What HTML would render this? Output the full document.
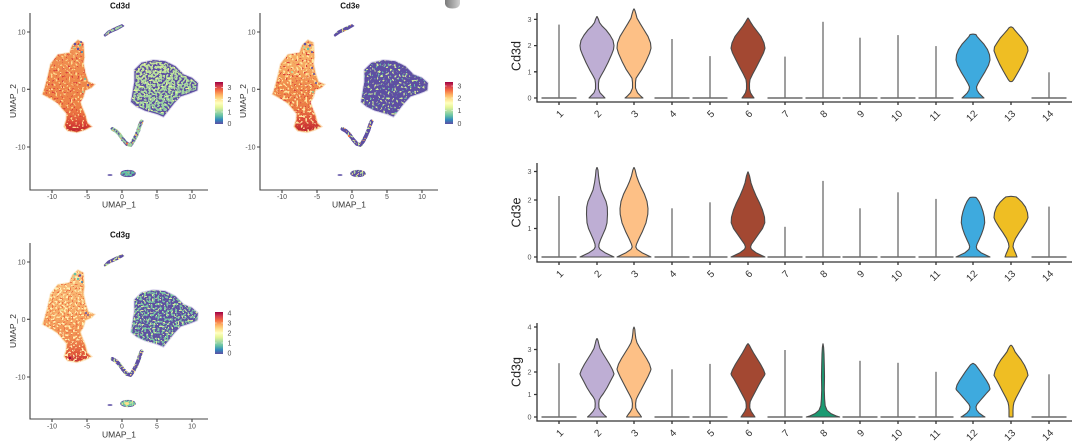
<!DOCTYPE html>
<html><head><meta charset="utf-8"><style>
html,body{margin:0;padding:0;background:#fff;}
svg{display:block;font-family:"Liberation Sans",Arial,sans-serif;}
</style></head><body>
<svg width="1080" height="447" viewBox="0 0 1080 447" xmlns="http://www.w3.org/2000/svg">
<defs>
<linearGradient id="spec" x1="0" y1="1" x2="0" y2="0">
<stop offset="0" stop-color="#5E4FA2"/><stop offset="0.1" stop-color="#3288BD"/><stop offset="0.2" stop-color="#66C2A5"/><stop offset="0.3" stop-color="#ABDDA4"/><stop offset="0.4" stop-color="#E6F598"/><stop offset="0.5" stop-color="#FFFFBF"/><stop offset="0.6" stop-color="#FEE08B"/><stop offset="0.7" stop-color="#FDAE61"/><stop offset="0.8" stop-color="#F46D43"/><stop offset="0.9" stop-color="#D53E4F"/><stop offset="1" stop-color="#9E0142"/>
</linearGradient>
<linearGradient id="gdL" gradientUnits="userSpaceOnUse" x1="0" y1="40" x2="0" y2="132">
<stop offset="0" stop-color="#F39A5C"/><stop offset="0.2" stop-color="#F08E50"/><stop offset="0.55" stop-color="#EE8548"/><stop offset="0.72" stop-color="#EE8246"/><stop offset="0.82" stop-color="#E86A3E"/><stop offset="0.91" stop-color="#D94434"/><stop offset="1" stop-color="#B8222E"/>
</linearGradient>
<linearGradient id="geL" gradientUnits="userSpaceOnUse" x1="0" y1="40" x2="0" y2="132">
<stop offset="0" stop-color="#F7B56A"/><stop offset="0.3" stop-color="#F6A861"/><stop offset="0.5" stop-color="#EF8A4A"/><stop offset="0.75" stop-color="#EA7A44"/><stop offset="0.88" stop-color="#DA4A37"/><stop offset="1" stop-color="#B8222E"/>
</linearGradient>
<linearGradient id="ggL" gradientUnits="userSpaceOnUse" x1="0" y1="40" x2="0" y2="132">
<stop offset="0" stop-color="#F9C27E"/><stop offset="0.5" stop-color="#F6A763"/><stop offset="0.75" stop-color="#F08C50"/><stop offset="0.9" stop-color="#E0573A"/><stop offset="1" stop-color="#C2303A"/>
</linearGradient>
<linearGradient id="gdR" x1="0" y1="0" x2="0.3" y2="1">
<stop offset="0" stop-color="#C9E59B"/><stop offset="1" stop-color="#93D0A2"/>
</linearGradient>
<linearGradient id="gblob" x1="0" y1="0" x2="1" y2="0">
<stop offset="0" stop-color="#7a7a7a"/><stop offset="1" stop-color="#d0d0d0"/>
</linearGradient>

<filter id="fdL" x="-0.1" y="-0.1" width="1.2" height="1.2" color-interpolation-filters="sRGB">
<feTurbulence type="fractalNoise" baseFrequency="0.45" numOctaves="1" seed="3" result="n1"/>
<feColorMatrix in="n1" type="matrix" values="0 0 0 0 0.99 0 0 0 0 0.85 0 0 0 0 0.56 20 0 0 0 -12" result="c1"/>
<feTurbulence type="fractalNoise" baseFrequency="0.5" numOctaves="1" seed="7" result="n2"/>
<feColorMatrix in="n2" type="matrix" values="0 0 0 0 0.85 0 0 0 0 0.25 0 0 0 0 0.23 20 0 0 0 -12.6" result="c2"/>
<feMerge result="m"><feMergeNode in="SourceGraphic"/><feMergeNode in="c1"/><feMergeNode in="c2"/></feMerge>
<feComposite in="m" in2="SourceAlpha" operator="in"/>
</filter>
<filter id="fdR" x="-0.1" y="-0.1" width="1.2" height="1.2" color-interpolation-filters="sRGB">
<feTurbulence type="fractalNoise" baseFrequency="0.45" numOctaves="1" seed="5" result="n1"/>
<feColorMatrix in="n1" type="matrix" values="0 0 0 0 0.37 0 0 0 0 0.31 0 0 0 0 0.635 20 0 0 0 -10" result="c1"/>
<feTurbulence type="fractalNoise" baseFrequency="0.5" numOctaves="1" seed="11" result="n2"/>
<feColorMatrix in="n2" type="matrix" values="0 0 0 0 0.9 0 0 0 0 0.96 0 0 0 0 0.6 20 0 0 0 -12.8" result="c2"/>
<feMerge result="m"><feMergeNode in="SourceGraphic"/><feMergeNode in="c1"/><feMergeNode in="c2"/></feMerge>
<feComposite in="m" in2="SourceAlpha" operator="in"/>
</filter>
<filter id="fdS" x="-0.2" y="-0.2" width="1.4" height="1.4" color-interpolation-filters="sRGB">
<feTurbulence type="fractalNoise" baseFrequency="0.5" numOctaves="1" seed="2" result="n1"/>
<feColorMatrix in="n1" type="matrix" values="0 0 0 0 0.37 0 0 0 0 0.31 0 0 0 0 0.635 20 0 0 0 -10.4" result="c1"/>
<feTurbulence type="fractalNoise" baseFrequency="0.5" numOctaves="1" seed="9" result="n2"/>
<feColorMatrix in="n2" type="matrix" values="0 0 0 0 0.965 0 0 0 0 0.65 0 0 0 0 0.37 20 0 0 0 -13.2" result="c2"/>
<feMerge result="m"><feMergeNode in="SourceGraphic"/><feMergeNode in="c1"/><feMergeNode in="c2"/></feMerge>
<feComposite in="m" in2="SourceAlpha" operator="in"/>
</filter>
<filter id="feL" x="-0.1" y="-0.1" width="1.2" height="1.2" color-interpolation-filters="sRGB">
<feTurbulence type="fractalNoise" baseFrequency="0.45" numOctaves="1" seed="4" result="n1"/>
<feColorMatrix in="n1" type="matrix" values="0 0 0 0 0.996 0 0 0 0 0.906 0 0 0 0 0.627 20 0 0 0 -11.2" result="c1"/>
<feTurbulence type="fractalNoise" baseFrequency="0.5" numOctaves="1" seed="8" result="n2"/>
<feColorMatrix in="n2" type="matrix" values="0 0 0 0 0.85 0 0 0 0 0.25 0 0 0 0 0.23 20 0 0 0 -12.8" result="c2"/>
<feMerge result="m"><feMergeNode in="SourceGraphic"/><feMergeNode in="c1"/><feMergeNode in="c2"/></feMerge>
<feComposite in="m" in2="SourceAlpha" operator="in"/>
</filter>
<filter id="feR" x="-0.1" y="-0.1" width="1.2" height="1.2" color-interpolation-filters="sRGB">
<feTurbulence type="fractalNoise" baseFrequency="0.45" numOctaves="1" seed="6" result="n1"/>
<feColorMatrix in="n1" type="matrix" values="0 0 0 0 0.83 0 0 0 0 0.925 0 0 0 0 0.6 20 0 0 0 -12" result="c1"/>
<feTurbulence type="fractalNoise" baseFrequency="0.5" numOctaves="1" seed="12" result="n2"/>
<feColorMatrix in="n2" type="matrix" values="0 0 0 0 0.4 0 0 0 0 0.76 0 0 0 0 0.65 20 0 0 0 -13.2" result="c2"/>
<feMerge result="m"><feMergeNode in="SourceGraphic"/><feMergeNode in="c1"/><feMergeNode in="c2"/></feMerge>
<feComposite in="m" in2="SourceAlpha" operator="in"/>
</filter>
<filter id="feS" x="-0.2" y="-0.2" width="1.4" height="1.4" color-interpolation-filters="sRGB">
<feTurbulence type="fractalNoise" baseFrequency="0.5" numOctaves="1" seed="13" result="n1"/>
<feColorMatrix in="n1" type="matrix" values="0 0 0 0 0.78 0 0 0 0 0.9 0 0 0 0 0.61 20 0 0 0 -11.6" result="c1"/>
<feTurbulence type="fractalNoise" baseFrequency="0.5" numOctaves="1" seed="14" result="n2"/>
<feColorMatrix in="n2" type="matrix" values="0 0 0 0 0.965 0 0 0 0 0.65 0 0 0 0 0.37 20 0 0 0 -13.2" result="c2"/>
<feMerge result="m"><feMergeNode in="SourceGraphic"/><feMergeNode in="c1"/><feMergeNode in="c2"/></feMerge>
<feComposite in="m" in2="SourceAlpha" operator="in"/>
</filter>
<filter id="fgL" x="-0.1" y="-0.1" width="1.2" height="1.2" color-interpolation-filters="sRGB">
<feTurbulence type="fractalNoise" baseFrequency="0.45" numOctaves="1" seed="15" result="n1"/>
<feColorMatrix in="n1" type="matrix" values="0 0 0 0 1 0 0 0 0 0.94 0 0 0 0 0.7 20 0 0 0 -11.2" result="c1"/>
<feTurbulence type="fractalNoise" baseFrequency="0.5" numOctaves="1" seed="16" result="n2"/>
<feColorMatrix in="n2" type="matrix" values="0 0 0 0 0.925 0 0 0 0 0.455 0 0 0 0 0.275 20 0 0 0 -12" result="c2"/>
<feMerge result="m"><feMergeNode in="SourceGraphic"/><feMergeNode in="c1"/><feMergeNode in="c2"/></feMerge>
<feComposite in="m" in2="SourceAlpha" operator="in"/>
</filter>
<filter id="fgR" x="-0.1" y="-0.1" width="1.2" height="1.2" color-interpolation-filters="sRGB">
<feTurbulence type="fractalNoise" baseFrequency="0.45" numOctaves="1" seed="17" result="n1"/>
<feColorMatrix in="n1" type="matrix" values="0 0 0 0 0.49 0 0 0 0 0.78 0 0 0 0 0.64 20 0 0 0 -10.4" result="c1"/>
<feTurbulence type="fractalNoise" baseFrequency="0.5" numOctaves="1" seed="18" result="n2"/>
<feColorMatrix in="n2" type="matrix" values="0 0 0 0 0.85 0 0 0 0 0.93 0 0 0 0 0.62 20 0 0 0 -12.4" result="c2"/>
<feMerge result="m"><feMergeNode in="SourceGraphic"/><feMergeNode in="c1"/><feMergeNode in="c2"/></feMerge>
<feComposite in="m" in2="SourceAlpha" operator="in"/>
</filter>
<filter id="fgS" x="-0.2" y="-0.2" width="1.4" height="1.4" color-interpolation-filters="sRGB">
<feTurbulence type="fractalNoise" baseFrequency="0.5" numOctaves="1" seed="19" result="n1"/>
<feColorMatrix in="n1" type="matrix" values="0 0 0 0 0.73 0 0 0 0 0.88 0 0 0 0 0.62 20 0 0 0 -11" result="c1"/>
<feTurbulence type="fractalNoise" baseFrequency="0.5" numOctaves="1" seed="20" result="n2"/>
<feColorMatrix in="n2" type="matrix" values="0 0 0 0 0.996 0 0 0 0 0.88 0 0 0 0 0.545 20 0 0 0 -12.4" result="c2"/>
<feMerge result="m"><feMergeNode in="SourceGraphic"/><feMergeNode in="c1"/><feMergeNode in="c2"/></feMerge>
<feComposite in="m" in2="SourceAlpha" operator="in"/>
</filter>

<path id="shL" d="M73,45 L78,40.5 L83,43 L83.5,50 L84,57 L83,63 L85,73 L88,82 L94,84.5 L91,87.5 L85,90 L83,97 L80,102 L82,108 L85,115 L87,123 L91,126.5 L85,129.5 L77,132 L68,130.5 L64.5,126.5 L66.5,120 L67,113.5 L63,109 L58,103 L52,99 L43,94 L45,88 L48,77 L51,64 L58,55 L70,53 L71.5,48 Z"/>
<path id="shR" d="M135,70 L141.7,63.3 L153.3,60.7 L165,61.7 L175,66.7 L183.3,75 L191.7,78.3 L197.3,83.3 L196.7,90 L190,92.7 L180,96 L173.3,103.3 L166.7,111.7 L163.3,116 L156.7,113.3 L145,110 L136.7,106 L131.7,101.7 L133.3,91.7 L135,81.7 Z"/>
<path id="shT" d="M104,35 L108,31 L116,27 L122,24.5 L124,26 L118,29.5 L110,33 L105,36.5 Z"/>
<path id="shV" fill="none" stroke-width="4" stroke-linecap="round" stroke-linejoin="round" d="M112.5,129 L116,131 L119.5,134.5 L123,139.5 L127,144 L130.5,145 L133,141.5 L136,136 L138.5,130 L140,125 L141.5,121.5"/>
<ellipse id="shB" cx="128" cy="173.5" rx="7.5" ry="3.3"/>

<path id="d2" vector-effect="non-scaling-stroke" stroke-linejoin="round" d="M0,0 L8,0 L6,0.08 L3,0.2 L1.5,0.35 L1.5,0.55 L2,0.7 L4,0.85 L7,1.05 L11,1.35 L14.5,1.65 L16.5,1.85 L17,2.0 L16,2.2 L13,2.4 L9,2.6 L5,2.75 L2.5,2.88 L1.5,3.0 L0,3.12"/>
<path id="d3" vector-effect="non-scaling-stroke" stroke-linejoin="round" d="M0,0 L9,0 L6.5,0.08 L3.5,0.2 L1.5,0.38 L1.5,0.6 L2,0.75 L4.5,0.9 L8,1.1 L12,1.4 L15.5,1.7 L17,1.9 L16.5,2.1 L14,2.35 L10,2.6 L6,2.85 L3,3.05 L2,3.2 L1,3.33 L0,3.41"/>
<path id="d6" vector-effect="non-scaling-stroke" stroke-linejoin="round" d="M0,0 L6,0 L4.5,0.08 L2.5,0.2 L1.5,0.35 L1.5,0.55 L2,0.7 L4.5,0.9 L8,1.15 L12,1.45 L15.5,1.72 L17,1.9 L16,2.1 L13,2.35 L9,2.55 L5,2.75 L2.5,2.9 L1,3.0 L0,3.06"/>
<path id="d12" vector-effect="non-scaling-stroke" stroke-linejoin="round" d="M0,0 L11,0 L9,0.07 L6,0.18 L4,0.3 L3.5,0.42 L5,0.55 L8,0.75 L12,1.0 L15.5,1.25 L17,1.45 L16.5,1.65 L14.5,1.85 L11,2.05 L7,2.22 L4,2.35 L3,2.42 L0,2.44"/>
<path id="d13" vector-effect="non-scaling-stroke" stroke-linejoin="round" d="M0,0.62 L1.5,0.64 L3,0.72 L5,0.85 L8,1.05 L11.5,1.3 L14.5,1.55 L17,1.8 L16.5,1.95 L14,2.1 L10.5,2.3 L7,2.45 L4,2.58 L2,2.68 L0,2.72"/>

<path id="e2" vector-effect="non-scaling-stroke" stroke-linejoin="round" d="M0,0 L17,0 L14,0.05 L8,0.15 L3,0.27 L1.8,0.35 L2,0.45 L3.5,0.6 L6,0.8 L8.5,1.0 L10,1.2 L10.5,1.5 L10.3,1.75 L9,1.95 L6.5,2.15 L4,2.35 L2.5,2.6 L1.5,2.85 L1,3.05 L0,3.15"/>
<path id="e3" vector-effect="non-scaling-stroke" stroke-linejoin="round" d="M0,0 L17,0 L14,0.05 L8,0.15 L3,0.27 L1.8,0.35 L2.5,0.45 L5,0.65 L8.5,0.9 L12,1.2 L13.8,1.5 L14,1.7 L13,1.95 L10.5,2.2 L7,2.45 L4.5,2.65 L2.5,2.85 L1.2,3.05 L0,3.15"/>
<path id="e6" vector-effect="non-scaling-stroke" stroke-linejoin="round" d="M0,0 L17,0 L14,0.05 L8,0.15 L3.5,0.27 L2.5,0.35 L3.5,0.45 L6.5,0.6 L10.5,0.8 L14.5,1.0 L16.8,1.2 L16.5,1.4 L14.5,1.65 L11.5,1.9 L8,2.15 L5,2.4 L3,2.6 L1.5,2.85 L0,3.0"/>
<path id="e12" vector-effect="non-scaling-stroke" stroke-linejoin="round" d="M0,0 L17,0 L14,0.05 L8,0.15 L4,0.27 L3.3,0.36 L4,0.45 L6,0.6 L8.5,0.8 L10.5,1.0 L11.7,1.2 L11.3,1.4 L10,1.6 L8,1.8 L6,1.95 L4,2.05 L3,2.09 L0,2.1"/>
<path id="e13" vector-effect="non-scaling-stroke" stroke-linejoin="round" d="M0,0 L6,0 L5,0.1 L3.5,0.22 L2,0.36 L2.5,0.48 L4.5,0.65 L8,0.85 L12,1.05 L15.5,1.25 L17,1.38 L16.5,1.55 L14.5,1.75 L11,1.92 L7.5,2.04 L5,2.11 L0,2.13"/>

<path id="g2" vector-effect="non-scaling-stroke" stroke-linejoin="round" d="M0,0 L9.5,0 L7,0.1 L4,0.25 L2,0.4 L1.8,0.6 L2.2,0.76 L4,0.9 L6.5,1.05 L10,1.3 L13.5,1.6 L16.5,1.85 L17,1.92 L15.5,2.1 L12.5,2.35 L9,2.6 L5.5,2.85 L3,3.05 L1.8,3.25 L1,3.4 L0,3.5"/>
<path id="g3" vector-effect="non-scaling-stroke" stroke-linejoin="round" d="M0,0 L7.5,0 L6,0.1 L3.5,0.25 L1.8,0.4 L1.6,0.6 L2.2,0.78 L4,0.95 L7,1.2 L10.5,1.5 L14,1.8 L16.5,2.05 L17,2.13 L15.5,2.35 L12.5,2.6 L9,2.85 L5.5,3.1 L3,3.3 L1.8,3.5 L1.2,3.7 L0.8,3.9 L0,4.01"/>
<path id="g6" vector-effect="non-scaling-stroke" stroke-linejoin="round" d="M0,0 L7,0 L5.5,0.1 L3.2,0.25 L1.8,0.4 L1.8,0.55 L2.2,0.68 L4,0.85 L7,1.1 L10.5,1.4 L14,1.68 L16.5,1.85 L17,1.92 L15.5,2.1 L12.5,2.35 L9,2.6 L5.5,2.85 L3,3.05 L1.5,3.18 L0,3.27"/>
<path id="g8" vector-effect="non-scaling-stroke" stroke-linejoin="round" d="M0,0 L16.7,0 L13,0.05 L8,0.15 L4,0.3 L2.2,0.5 L1.6,0.8 L1.3,1.2 L1.5,1.8 L1.3,2.3 L1,2.8 L0.6,3.1 L0,3.27"/>
<path id="g12" vector-effect="non-scaling-stroke" stroke-linejoin="round" d="M0,0 L12,0 L10,0.05 L6,0.18 L3.5,0.32 L3,0.45 L4,0.56 L7,0.72 L10.5,0.9 L14,1.08 L16.5,1.2 L17,1.25 L16,1.42 L13.5,1.62 L10.5,1.82 L7.5,2.02 L4.5,2.2 L2.5,2.32 L0,2.39"/>
<path id="g13" vector-effect="non-scaling-stroke" stroke-linejoin="round" d="M0,0 L2,0 L2,0.3 L2.3,0.5 L3,0.65 L5,0.85 L8,1.1 L11.5,1.4 L14.5,1.65 L17,1.85 L16,2.05 L13.5,2.3 L10,2.55 L6.5,2.75 L4,2.9 L2.5,3.05 L1.2,3.15 L0,3.2"/>
</defs>

<rect width="1080" height="447" fill="#fff"/>

<!-- ============ UMAP Cd3d ============ -->
<g>
<use href="#shL" fill="none" stroke="#FBE3C6" stroke-width="2.5"/>
<use href="#shL" fill="url(#gdL)" stroke="#EE8A4C" stroke-width="0.8" filter="url(#fdL)"/>
<g>
<circle cx="75" cy="44" r="1.3" fill="#5E4FA2"/><circle cx="80" cy="45" r="1.2" fill="#66C2A5"/><circle cx="78" cy="49" r="1.2" fill="#5E4FA2"/><circle cx="82" cy="52" r="1" fill="#3288BD"/><circle cx="74" cy="47.5" r="1" fill="#ABDDA4"/><circle cx="81" cy="42" r="1" fill="#5E4FA2"/><circle cx="85" cy="79" r="1" fill="#66C2A5"/><circle cx="88" cy="85" r="1" fill="#5E4FA2"/><circle cx="83" cy="92" r="0.9" fill="#ABDDA4"/>
</g>
<use href="#shR" fill="none" stroke="#D9D4EC" stroke-width="3"/>
<use href="#shR" fill="url(#gdR)" stroke="#5E4FA2" stroke-width="1.3" filter="url(#fdR)"/>
<use href="#shT" fill="#ABDDA4" stroke="#5E4FA2" stroke-width="0.8" filter="url(#fdS)"/>
<use href="#shV" stroke="#9FD5A2" filter="url(#fdS)"/>
<circle cx="127" cy="143.5" r="1.1" fill="#F46D43"/><circle cx="136" cy="135" r="1" fill="#FDAE61"/>
<use href="#shB" fill="#66C2A5" stroke="#5E4FA2" stroke-width="0.8" filter="url(#fdS)"/>
<ellipse cx="110" cy="175" rx="2.5" ry="1" fill="#7B6FB5"/>
<g stroke="#444" stroke-width="1.1" fill="none">
<path d="M30,13V190H208"/>
<path d="M27,32H30M27,89.3H30M27,147H30M52,190V193M87,190V193M122,190V193M157,190V193M192,190V193"/>
</g>
<g font-size="7" fill="#4d4d4d">
<text x="25.5" y="34.5" text-anchor="end">10</text><text x="25.5" y="91.8" text-anchor="end">0</text><text x="25.5" y="149.5" text-anchor="end">-10</text>
<g text-anchor="middle"><text x="52" y="199">-10</text><text x="87" y="199">-5</text><text x="122" y="199">0</text><text x="157" y="199">5</text><text x="192" y="199">10</text></g>
</g>
<text x="119" y="207.5" font-size="8.5" fill="#333" text-anchor="middle">UMAP_1</text>
<text transform="translate(16,101) rotate(-90)" font-size="8.5" fill="#333" text-anchor="middle">UMAP_2</text>
<text x="120" y="8.3" font-size="8" font-weight="bold" fill="#111" text-anchor="middle">Cd3d</text>
<rect x="215" y="82" width="8" height="42" fill="url(#spec)"/>
<g stroke="#fff" stroke-width="0.6"><path d="M215,87.3h1.6M221.4,87.3h1.6M215,99.7h1.6M221.4,99.7h1.6M215,112h1.6M221.4,112h1.6"/></g>
<g font-size="7" fill="#4d4d4d"><text x="227.5" y="89.8">3</text><text x="227.5" y="102.2">2</text><text x="227.5" y="114.5">1</text><text x="227.5" y="126.2">0</text></g>
</g>

<!-- ============ UMAP Cd3e ============ -->
<g transform="translate(230,0)">
<use href="#shL" fill="none" stroke="#FBE3C6" stroke-width="2.5"/>
<use href="#shL" fill="url(#geL)" stroke="#F2A05E" stroke-width="0.8" filter="url(#feL)"/>
<g>
<circle cx="75" cy="44" r="1.3" fill="#5E4FA2"/><circle cx="80" cy="45.5" r="1.2" fill="#5E4FA2"/><circle cx="78" cy="49" r="1.2" fill="#66C2A5"/><circle cx="82" cy="52" r="1" fill="#5E4FA2"/><circle cx="74" cy="47.5" r="1" fill="#ABDDA4"/><circle cx="82" cy="68" r="1" fill="#5E4FA2"/><circle cx="84" cy="74" r="1" fill="#5E4FA2"/><circle cx="86" cy="83" r="1" fill="#5E4FA2"/><circle cx="83" cy="92" r="0.9" fill="#66C2A5"/><circle cx="62" cy="72" r="1" fill="#ABDDA4"/>
</g>
<use href="#shR" fill="none" stroke="#D9D4EC" stroke-width="3"/>
<use href="#shR" fill="#5E4FA2" stroke="#5E4FA2" stroke-width="1.3" filter="url(#feR)"/>
<use href="#shT" fill="#5E4FA2" stroke="#5E4FA2" stroke-width="0.8" filter="url(#feS)"/>
<use href="#shV" stroke="#5E4FA2" filter="url(#feS)"/>
<circle cx="119" cy="136" r="1.1" fill="#F46D43"/><circle cx="140" cy="126" r="1" fill="#FDAE61"/>
<use href="#shB" fill="#5E4FA2" stroke="#5E4FA2" stroke-width="0.8" filter="url(#fgS)"/>
<ellipse cx="110" cy="175" rx="2.5" ry="1" fill="#7B6FB5"/>
<g stroke="#444" stroke-width="1.1" fill="none">
<path d="M30,13V190H208"/>
<path d="M27,32H30M27,89.3H30M27,147H30M52,190V193M87,190V193M122,190V193M157,190V193M192,190V193"/>
</g>
<g font-size="7" fill="#4d4d4d">
<text x="25.5" y="34.5" text-anchor="end">10</text><text x="25.5" y="91.8" text-anchor="end">0</text><text x="25.5" y="149.5" text-anchor="end">-10</text>
<g text-anchor="middle"><text x="52" y="199">-10</text><text x="87" y="199">-5</text><text x="122" y="199">0</text><text x="157" y="199">5</text><text x="192" y="199">10</text></g>
</g>
<text x="119" y="207.5" font-size="8.5" fill="#333" text-anchor="middle">UMAP_1</text>
<text transform="translate(16,101) rotate(-90)" font-size="8.5" fill="#333" text-anchor="middle">UMAP_2</text>
<text x="120" y="8.3" font-size="8" font-weight="bold" fill="#111" text-anchor="middle">Cd3e</text>
<rect x="215" y="82" width="8" height="42" fill="url(#spec)"/>
<g stroke="#fff" stroke-width="0.6"><path d="M215,86h1.6M221.4,86h1.6M215,98h1.6M221.4,98h1.6M215,110.5h1.6M221.4,110.5h1.6"/></g>
<g font-size="7" fill="#4d4d4d"><text x="227.5" y="88.3">3</text><text x="227.5" y="100.3">2</text><text x="227.5" y="112.8">1</text><text x="227.5" y="125.8">0</text></g>
</g>

<path d="M445,0 L460,0 L460,4 Q459,8.5 452.5,8.5 Q446,8.5 445,4 Z" fill="url(#gblob)"/>

<!-- ============ UMAP Cd3g ============ -->
<g transform="translate(0,230)">
<use href="#shL" fill="none" stroke="#FCEBD0" stroke-width="2.5"/>
<use href="#shL" fill="url(#ggL)" stroke="#F7B46C" stroke-width="0.8" filter="url(#fgL)"/>
<g>
<circle cx="75" cy="44" r="1.3" fill="#66C2A5"/><circle cx="80" cy="45.5" r="1.2" fill="#5E4FA2"/><circle cx="78" cy="49" r="1.2" fill="#66C2A5"/><circle cx="82" cy="52" r="1" fill="#3288BD"/><circle cx="74" cy="47.5" r="1" fill="#ABDDA4"/><circle cx="86" cy="83" r="1" fill="#5E4FA2"/><circle cx="88" cy="85" r="0.9" fill="#5E4FA2"/><circle cx="62" cy="80" r="1" fill="#E6F598"/><circle cx="70" cy="128" r="1.1" fill="#9E0142"/>
</g>
<use href="#shR" fill="none" stroke="#D9D4EC" stroke-width="3"/>
<use href="#shR" fill="#5E4FA2" stroke="#5E4FA2" stroke-width="1.3" filter="url(#fgR)"/>
<use href="#shT" fill="#5E4FA2" stroke="#5E4FA2" stroke-width="0.8" filter="url(#fgS)"/>
<use href="#shV" stroke="#5E4FA2" filter="url(#fgS)"/>
<use href="#shB" fill="#6CC4A4" stroke="#5E4FA2" stroke-width="0.8" filter="url(#fgS)"/>
<ellipse cx="127" cy="173.5" rx="2.5" ry="1.5" fill="#FEE08B"/>
<ellipse cx="110" cy="175" rx="2.5" ry="1" fill="#7B6FB5"/>
<g stroke="#444" stroke-width="1.1" fill="none">
<path d="M30,13V189H208"/>
<path d="M27,32H30M27,89.3H30M27,147H30M52,189V192M87,189V192M122,189V192M157,189V192M192,189V192"/>
</g>
<g font-size="7" fill="#4d4d4d">
<text x="25.5" y="34.5" text-anchor="end">10</text><text x="25.5" y="91.8" text-anchor="end">0</text><text x="25.5" y="149.5" text-anchor="end">-10</text>
<g text-anchor="middle"><text x="52" y="198.5">-10</text><text x="87" y="198.5">-5</text><text x="122" y="198.5">0</text><text x="157" y="198.5">5</text><text x="192" y="198.5">10</text></g>
</g>
<text x="119" y="207.5" font-size="8.5" fill="#333" text-anchor="middle">UMAP_1</text>
<text transform="translate(16,101) rotate(-90)" font-size="8.5" fill="#333" text-anchor="middle">UMAP_2</text>
<text x="120" y="7.3" font-size="8" font-weight="bold" fill="#111" text-anchor="middle">Cd3g</text>
<rect x="215" y="82" width="8" height="42" fill="url(#spec)"/>
<g stroke="#fff" stroke-width="0.6"><path d="M215,93h1.6M221.4,93h1.6M215,103h1.6M221.4,103h1.6M215,113h1.6M221.4,113h1.6"/></g>
<g font-size="7" fill="#4d4d4d"><text x="227.5" y="85.5">4</text><text x="227.5" y="95.5">3</text><text x="227.5" y="105.5">2</text><text x="227.5" y="115.5">1</text><text x="227.5" y="125.5">0</text></g>
</g>

<!-- ============ VIOLIN Cd3d ============ -->
<g>
<g fill="#8f8f8f">
<rect x="541.5" y="97" width="35" height="2"/><rect x="654.5" y="97" width="35" height="2"/><rect x="692.5" y="97" width="35" height="2"/><rect x="767.5" y="97" width="35" height="2"/><rect x="805.5" y="97" width="35" height="2"/><rect x="842.5" y="97" width="35" height="2"/><rect x="880.5" y="97" width="35" height="2"/><rect x="918.5" y="97" width="35" height="2"/><rect x="1031.5" y="97" width="35" height="2"/>
</g>
<g stroke="#6b6b6b" stroke-width="1.3">
<line x1="559" y1="98" x2="559" y2="24.6"/><line x1="672" y1="98" x2="672" y2="39"/><line x1="710" y1="98" x2="710" y2="56.1"/><line x1="785" y1="98" x2="785" y2="56.6"/><line x1="823" y1="98" x2="823" y2="21.8"/><line x1="860" y1="98" x2="860" y2="37.7"/><line x1="898" y1="98" x2="898" y2="35.1"/><line x1="936" y1="98" x2="936" y2="46.1"/><line x1="1049" y1="98" x2="1049" y2="72.3"/>
</g>
<g stroke="#4a4a4a" stroke-width="1.1">
<g transform="translate(597,98) scale(1,-26.2)" fill="#BEAED4"><use href="#d2"/><use href="#d2" transform="scale(-1,1)"/></g>
<g transform="translate(634,98) scale(1,-26.2)" fill="#FDC086"><use href="#d3"/><use href="#d3" transform="scale(-1,1)"/></g>
<g transform="translate(748,98) scale(1,-26.2)" fill="#A34832"><use href="#d6"/><use href="#d6" transform="scale(-1,1)"/></g>
<g transform="translate(973,98) scale(1,-26.2)" fill="#3EAADE"><use href="#d12"/><use href="#d12" transform="scale(-1,1)"/></g>
<g transform="translate(1011,98) scale(1,-26.2)" fill="#EFBE23"><use href="#d13"/><use href="#d13" transform="scale(-1,1)"/></g>
</g>
<g stroke="#333" stroke-width="1.3" fill="none">
<path d="M537,13V102H1072"/>
<path d="M534,98H537M534,71.8H537M534,45.6H537M534,19.4H537"/>
<path d="M559,102v3M597,102v3M634,102v3M672,102v3M710,102v3M748,102v3M785,102v3M823,102v3M860,102v3M898,102v3M936,102v3M973,102v3M1011,102v3M1049,102v3"/>
</g>
<g font-size="7.2" fill="#555" text-anchor="end">
<text x="531.5" y="100.5">0</text><text x="531.5" y="74.3">1</text><text x="531.5" y="48.1">2</text><text x="531.5" y="21.9">3</text>
</g>
<text transform="translate(520.5,56) rotate(-90)" font-size="12.5" fill="#222" text-anchor="middle">Cd3d</text>
<g font-size="10" fill="#333" text-anchor="end">
<text transform="translate(564,114.3) rotate(-45)">1</text><text transform="translate(602,114.3) rotate(-45)">2</text><text transform="translate(639,114.3) rotate(-45)">3</text><text transform="translate(677,114.3) rotate(-45)">4</text><text transform="translate(715,114.3) rotate(-45)">5</text><text transform="translate(753,114.3) rotate(-45)">6</text><text transform="translate(790,114.3) rotate(-45)">7</text><text transform="translate(828,114.3) rotate(-45)">8</text><text transform="translate(865,114.3) rotate(-45)">9</text><text transform="translate(903,114.3) rotate(-45)">10</text><text transform="translate(941,114.3) rotate(-45)">11</text><text transform="translate(978,114.3) rotate(-45)">12</text><text transform="translate(1016,114.3) rotate(-45)">13</text><text transform="translate(1054,114.3) rotate(-45)">14</text>
</g>
</g>

<!-- ============ VIOLIN Cd3e ============ -->
<g>
<g fill="#8f8f8f">
<rect x="541.5" y="256" width="35" height="2"/><rect x="654.5" y="256" width="35" height="2"/><rect x="692.5" y="256" width="35" height="2"/><rect x="767.5" y="256" width="35" height="2"/><rect x="805.5" y="256" width="35" height="2"/><rect x="842.5" y="256" width="35" height="2"/><rect x="880.5" y="256" width="35" height="2"/><rect x="918.5" y="256" width="35" height="2"/><rect x="1031.5" y="256" width="35" height="2"/>
</g>
<g stroke="#6b6b6b" stroke-width="1.3">
<line x1="559" y1="257" x2="559" y2="196"/><line x1="672" y1="257" x2="672" y2="208.3"/><line x1="710" y1="257" x2="710" y2="202.3"/><line x1="785" y1="257" x2="785" y2="226.8"/><line x1="823" y1="257" x2="823" y2="180.9"/><line x1="860" y1="257" x2="860" y2="208.3"/><line x1="898" y1="257" x2="898" y2="192.3"/><line x1="936" y1="257" x2="936" y2="198.9"/><line x1="1049" y1="257" x2="1049" y2="206.6"/>
</g>
<g stroke="#4a4a4a" stroke-width="1.1">
<g transform="translate(597,257) scale(1,-28.5)" fill="#BEAED4"><use href="#e2"/><use href="#e2" transform="scale(-1,1)"/></g>
<g transform="translate(634,257) scale(1,-28.5)" fill="#FDC086"><use href="#e3"/><use href="#e3" transform="scale(-1,1)"/></g>
<g transform="translate(748,257) scale(1,-28.5)" fill="#A34832"><use href="#e6"/><use href="#e6" transform="scale(-1,1)"/></g>
<g transform="translate(973,257) scale(1,-28.5)" fill="#3EAADE"><use href="#e12"/><use href="#e12" transform="scale(-1,1)"/></g>
<g transform="translate(1011,257) scale(1,-28.5)" fill="#EFBE23"><use href="#e13"/><use href="#e13" transform="scale(-1,1)"/></g>
</g>
<g stroke="#333" stroke-width="1.3" fill="none">
<path d="M537,163V262H1072"/>
<path d="M534,257H537M534,228.5H537M534,200H537M534,171.5H537"/>
<path d="M559,262v3M597,262v3M634,262v3M672,262v3M710,262v3M748,262v3M785,262v3M823,262v3M860,262v3M898,262v3M936,262v3M973,262v3M1011,262v3M1049,262v3"/>
</g>
<g font-size="7.2" fill="#555" text-anchor="end">
<text x="531.5" y="259.5">0</text><text x="531.5" y="231">1</text><text x="531.5" y="202.5">2</text><text x="531.5" y="174">3</text>
</g>
<text transform="translate(520.5,212.5) rotate(-90)" font-size="12.5" fill="#222" text-anchor="middle">Cd3e</text>
<g font-size="10" fill="#333" text-anchor="end">
<text transform="translate(564,274.3) rotate(-45)">1</text><text transform="translate(602,274.3) rotate(-45)">2</text><text transform="translate(639,274.3) rotate(-45)">3</text><text transform="translate(677,274.3) rotate(-45)">4</text><text transform="translate(715,274.3) rotate(-45)">5</text><text transform="translate(753,274.3) rotate(-45)">6</text><text transform="translate(790,274.3) rotate(-45)">7</text><text transform="translate(828,274.3) rotate(-45)">8</text><text transform="translate(865,274.3) rotate(-45)">9</text><text transform="translate(903,274.3) rotate(-45)">10</text><text transform="translate(941,274.3) rotate(-45)">11</text><text transform="translate(978,274.3) rotate(-45)">12</text><text transform="translate(1016,274.3) rotate(-45)">13</text><text transform="translate(1054,274.3) rotate(-45)">14</text>
</g>
</g>

<!-- ============ VIOLIN Cd3g ============ -->
<g>
<g fill="#8f8f8f">
<rect x="541.5" y="416" width="35" height="2"/><rect x="654.5" y="416" width="35" height="2"/><rect x="692.5" y="416" width="35" height="2"/><rect x="767.5" y="416" width="35" height="2"/><rect x="842.5" y="416" width="35" height="2"/><rect x="880.5" y="416" width="35" height="2"/><rect x="918.5" y="416" width="35" height="2"/><rect x="1031.5" y="416" width="35" height="2"/>
</g>
<g stroke="#6b6b6b" stroke-width="1.3">
<line x1="559" y1="417" x2="559" y2="363.2"/><line x1="672" y1="417" x2="672" y2="369.3"/><line x1="710" y1="417" x2="710" y2="363.9"/><line x1="785" y1="417" x2="785" y2="350"/><line x1="860" y1="417" x2="860" y2="360.8"/><line x1="898" y1="417" x2="898" y2="362.8"/><line x1="936" y1="417" x2="936" y2="371.8"/><line x1="1049" y1="417" x2="1049" y2="374.3"/>
</g>
<g stroke="#4a4a4a" stroke-width="1.1">
<g transform="translate(597,417) scale(1,-22.5)" fill="#BEAED4"><use href="#g2"/><use href="#g2" transform="scale(-1,1)"/></g>
<g transform="translate(634,417) scale(1,-22.5)" fill="#FDC086"><use href="#g3"/><use href="#g3" transform="scale(-1,1)"/></g>
<g transform="translate(748,417) scale(1,-22.5)" fill="#A34832"><use href="#g6"/><use href="#g6" transform="scale(-1,1)"/></g>
<g transform="translate(823,417) scale(1,-22.5)" fill="#1A9A72"><use href="#g8"/><use href="#g8" transform="scale(-1,1)"/></g>
<g transform="translate(973,417) scale(1,-22.5)" fill="#3EAADE"><use href="#g12"/><use href="#g12" transform="scale(-1,1)"/></g>
<g transform="translate(1011,417) scale(1,-22.5)" fill="#EFBE23"><use href="#g13"/><use href="#g13" transform="scale(-1,1)"/></g>
</g>
<g stroke="#333" stroke-width="1.3" fill="none">
<path d="M537,323V421H1072"/>
<path d="M534,417H537M534,394.5H537M534,372H537M534,349.5H537M534,327H537"/>
<path d="M559,421v3M597,421v3M634,421v3M672,421v3M710,421v3M748,421v3M785,421v3M823,421v3M860,421v3M898,421v3M936,421v3M973,421v3M1011,421v3M1049,421v3"/>
</g>
<g font-size="7.2" fill="#555" text-anchor="end">
<text x="531.5" y="419.5">0</text><text x="531.5" y="397">1</text><text x="531.5" y="374.5">2</text><text x="531.5" y="352">3</text><text x="531.5" y="329.5">4</text>
</g>
<text transform="translate(520.5,372) rotate(-90)" font-size="12.5" fill="#222" text-anchor="middle">Cd3g</text>
<g font-size="10" fill="#333" text-anchor="end">
<text transform="translate(564,433.5) rotate(-45)">1</text><text transform="translate(602,433.5) rotate(-45)">2</text><text transform="translate(639,433.5) rotate(-45)">3</text><text transform="translate(677,433.5) rotate(-45)">4</text><text transform="translate(715,433.5) rotate(-45)">5</text><text transform="translate(753,433.5) rotate(-45)">6</text><text transform="translate(790,433.5) rotate(-45)">7</text><text transform="translate(828,433.5) rotate(-45)">8</text><text transform="translate(865,433.5) rotate(-45)">9</text><text transform="translate(903,433.5) rotate(-45)">10</text><text transform="translate(941,433.5) rotate(-45)">11</text><text transform="translate(978,433.5) rotate(-45)">12</text><text transform="translate(1016,433.5) rotate(-45)">13</text><text transform="translate(1054,433.5) rotate(-45)">14</text>
</g>
</g>
</svg>
</body></html>
